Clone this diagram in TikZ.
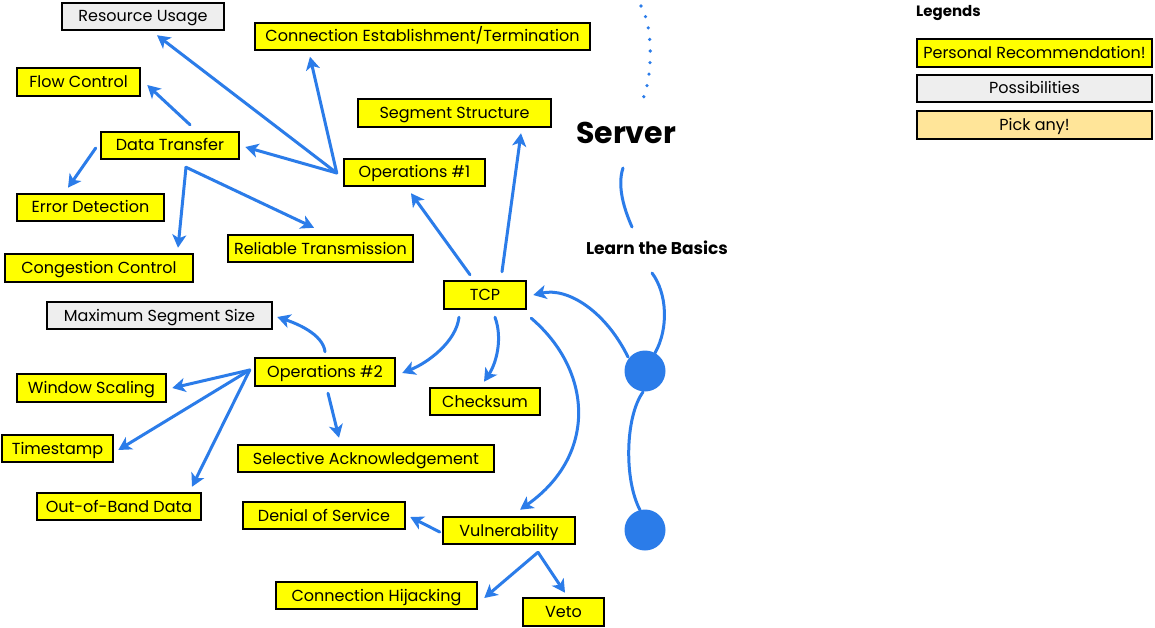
\documentclass[tikz,border=0pt]{standalone}
\usepackage{fontspec}
\setmainfont{Poppins}
\usetikzlibrary{arrows.meta,calc}
\definecolor{yel}{HTML}{FFFF00}
\definecolor{gry}{HTML}{EEEEEE}
\definecolor{pick}{HTML}{FFE599}
\definecolor{blu}{HTML}{2B7CE9}
\begin{document}
\begin{tikzpicture}[x=1pt,y=-1pt,
  bx/.style={draw=black, line width=2.5pt, fill=yel, inner sep=0pt, text height=12.5pt, text depth=1.5pt, font=\fontsize{16}{19}\selectfont},
  gbx/.style={bx, fill=gry},
  arr/.style={draw=blu, line width=3pt, line cap=round, -{Stealth[length=13pt,width=14pt,inset=3.5pt]}},
  link/.style={draw=blu, line width=3pt, line cap=round},
  dots/.style={draw=blu, line width=3.6pt, line cap=round, dash pattern=on 0pt off 11.6pt},
  dot/.style={circle, fill=blu, inner sep=0pt, minimum size=41pt}
]
\path[use as bounding box, fill=white] (0,0) rectangle (1155,628);

% nodes
\node[gbx, minimum width=162pt, minimum height=27pt] (res) at (143,16.5) {Resource Usage};
\node[bx, minimum width=335pt, minimum height=27pt] (conn) at (422.5,36.5) {Connection Establishment/Termination};
\node[bx, minimum width=123pt, minimum height=28pt] (flow) at (78.5,82) {Flow Control};
\node[bx, minimum width=193pt, minimum height=28pt] (seg) at (454.5,113) {Segment Structure};
\node[bx, minimum width=138pt, minimum height=27pt] (dt) at (170,145.5) {Data Transfer};
\node[bx, minimum width=141pt, minimum height=27pt] (ops1) at (414.5,172.5) {Operations \#1};
\node[bx, minimum width=147pt, minimum height=27pt] (err) at (90.5,207.5) {Error Detection};
\node[bx, minimum width=185pt, minimum height=27pt] (rel) at (320.5,248.5) {Reliable Transmission};
\node[bx, minimum width=188pt, minimum height=28pt] (cong) at (99,268) {Congestion Control};
\node[bx, minimum width=82pt, minimum height=28pt] (tcp) at (485,295) {TCP};
\node[gbx, minimum width=225pt, minimum height=27pt] (mss) at (159.5,315.5) {Maximum Segment Size};
\node[bx, minimum width=140pt, minimum height=28pt] (ops2) at (325,372) {Operations \#2};
\node[bx, minimum width=149pt, minimum height=28pt] (win) at (91.5,388) {Window Scaling};
\node[bx, minimum width=110pt, minimum height=27pt] (chk) at (485,401.5) {Checksum};
\node[bx, minimum width=111pt, minimum height=27pt] (ts) at (57.5,448.5) {Timestamp};
\node[bx, minimum width=256pt, minimum height=27pt] (sack) at (366,458.5) {Selective Acknowledgement};
\node[bx, minimum width=164pt, minimum height=27pt] (oob) at (119,506.5) {Out-of-Band Data};
\node[bx, minimum width=162pt, minimum height=27pt] (dos) at (324,515.5) {Denial of Service};
\node[bx, minimum width=132pt, minimum height=27pt] (vul) at (509,530.5) {Vulnerability};
\node[bx, minimum width=201pt, minimum height=27pt] (hij) at (376.5,595.5) {Connection Hijacking};
\node[bx, minimum width=81pt, minimum height=28pt] (veto) at (563.5,612) {Veto};

% legend
\node[font=\fontsize{15}{18}\selectfont\bfseries, anchor=west, inner sep=0pt] (legends) at (916,13) {Legends};
\node[bx, minimum width=235pt, minimum height=28pt] (l1) at (1034.5,53) {Personal Recommendation!};
\node[gbx, minimum width=235pt, minimum height=27pt] (l2) at (1034.5,88.5) {Possibilities};
\node[bx, fill=pick, minimum width=235pt, minimum height=28pt] (l3) at (1034.5,125) {Pick any!};

% right side
\node[font=\fontsize{30}{34}\selectfont\bfseries] (server) at (626,133) {Server};
\node[font=\fontsize{17}{20}\selectfont\bfseries] (learn) at (657,248) {Learn the Basics};
\node[dot] (c1) at (645,371) {};
\node[dot] (c2) at (645,530) {};
\coordinate (dtop) at (641,6);

% connectors
\draw[arr] ($(ops1.west)+(-6,0.5)$) -- ($(res.south)+(14,4)$);
\draw[arr] ($(ops1.west)+(-6,0.5)$) -- ($(conn.south)+(-112.5,5.5)$);
\draw[arr] ($(ops1.west)+(-6,0.5)$) -- ($(dt.east)+(5,1.5)$);
\draw[arr] ($(dt.north)+(20,-6)$) -- ($(flow.east)+(6,3)$);
\draw[arr] ($(dt.west)+(-4,2.5)$) -- ($(err.north)+(-22.5,-5)$);
\draw[arr] ($(dt.south)+(16,7)$) -- ($(cong.north)+(79,-5)$);
\draw[arr] ($(dt.south)+(16,7)$) -- ($(rel.north)+(-6.5,-6)$);
\draw[arr] ($(tcp.north)+(-15,-5)$) -- ($(ops1.south)+(-3.5,6)$);
\draw[arr] ($(tcp.north)+(17,-8)$) -- ($(seg.south)+(66.5,5)$);

\draw[arr] ($(ops2.north)+(0,-5)$) .. controls +(-2,-18) and +(18,6) .. ($(mss.east)+(4,1.5)$);
\draw[arr] ($(tcp.south)+(-26,7)$) .. controls +(-3,25) and +(25,-10) .. ($(ops2.east)+(6,1)$);
\draw[arr] ($(tcp.south)+(10,7)$) .. controls +(8,22) and +(12,-18) .. ($(chk.north)+(-1,-5)$);
\draw[arr] ($(tcp.south east)+(4,8)$) .. controls +(61,52) and +(78,-55) .. ($(vul.north)+(11,-6)$);

\draw[arr] ($(ops2.west)+(-4,-2)$) -- ($(win.east)+(5,0)$);
\draw[arr] ($(ops2.west)+(-4,-2)$) -- ($(ts.east)+(4,1.5)$);
\draw[arr] ($(ops2.west)+(-4,-2)$) -- ($(oob.north)+(73,-5)$);
\draw[arr] ($(ops2.south)+(3,6)$) -- ($(sack.north)+(-27,-6)$);
\draw[arr] ($(vul.west)+(-2,1.5)$) -- ($(dos.east)+(4,1.5)$);
\draw[arr] ($(vul.south)+(29,7)$) -- ($(hij.east)+(6,2.5)$);
\draw[arr] ($(vul.south)+(29,7)$) -- ($(veto.north)+(1.5,-4)$);

\draw[dots] (dtop) .. controls +(12,20) and +(10,-25) .. ($(server)+(17,-34)$);
\draw[link] ($(server)+(-3,35)$) .. controls +(-6,18) and +(-8,-18) .. ($(learn)+(-25,-21)$);
\draw[link] ($(learn)+(-5,25)$) .. controls +(15,20) and +(14,-25) .. ($(c1)+(10,-18)$);
\draw[link] ($(c1)+(-2,21)$) .. controls +(-18,25) and +(-16,-30) .. ($(c2)+(-5,-20)$);
\draw[arr] ($(c1)+(-17,-14)$) .. controls +(-22,-45) and +(35,-8) .. ($(tcp.east)+(6,0)$);
\end{tikzpicture}
\end{document}
